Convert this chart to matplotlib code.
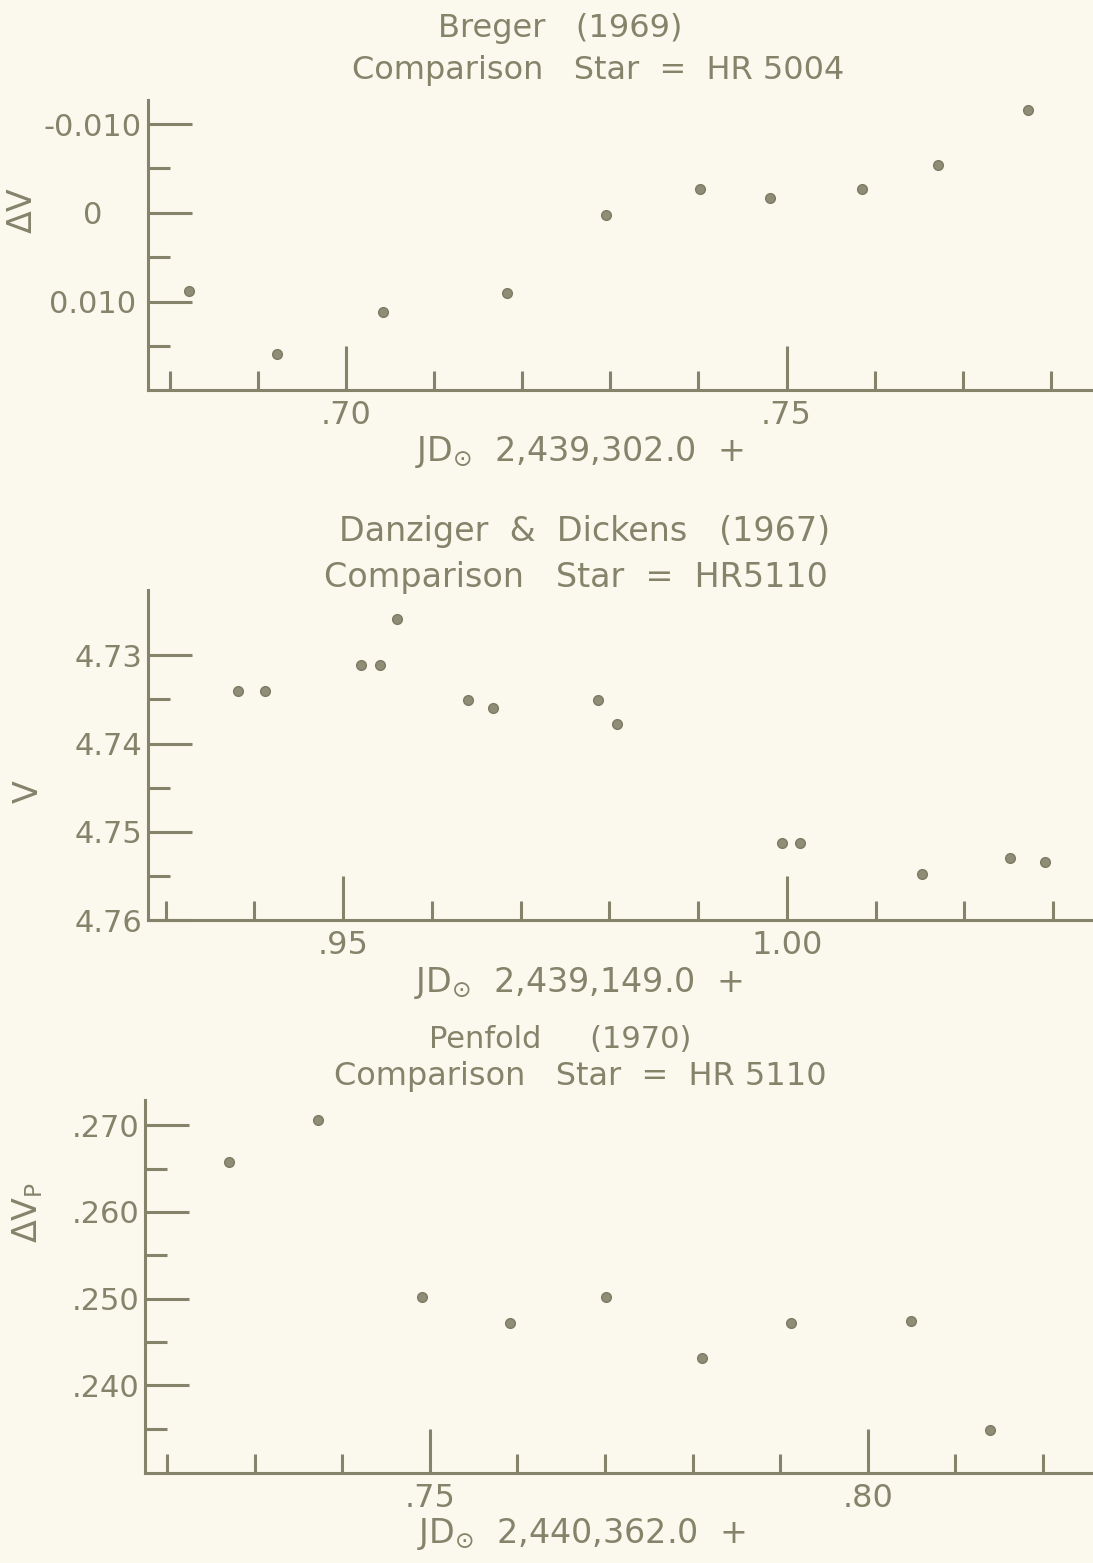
import numpy as np
import matplotlib
matplotlib.use("Agg")
import matplotlib.pyplot as plt
from matplotlib.ticker import FixedLocator

# Breger (1969), comparison HR 5004
breger_jd = [0.6822, 0.6922, 0.7042, 0.7183, 0.7295, 0.7402, 0.7481, 0.7586, 0.7672, 0.7774]
breger_dv = [0.0088, 0.0159, 0.0111, 0.0090, 0.0002, -0.0027, -0.0017, -0.0027, -0.0054, -0.0116]

# Danziger & Dickens (1967), comparison HR 5110
dd_jd = [0.9381, 0.9412, 0.9520, 0.9542, 0.9561, 0.9641, 0.9669, 0.9787, 0.9809,
         0.9994, 1.0015, 1.0152, 1.0251, 1.0291]
dd_v = [4.7340, 4.7340, 4.7311, 4.7311, 4.7259, 4.7351, 4.7360, 4.7351, 4.7378,
        4.7513, 4.7513, 4.7548, 4.7530, 4.7534]

# Penfold (1970), comparison HR 5110
pen_jd = [0.7271, 0.7372, 0.7491, 0.7592, 0.7701, 0.7811, 0.7912, 0.8049, 0.8139]
pen_dvp = [0.2657, 0.2706, 0.2502, 0.2472, 0.2502, 0.2431, 0.2472, 0.2474, 0.2349]

INK = "#85836a"
DOT = "#8f8d76"
BG = "#fbf9ee"

plt.rcParams["font.family"] = ["DejaVu Sans"]
plt.rcParams["mathtext.fontset"] = "dejavusans"

W, H = 1093, 1563
fig = plt.figure(figsize=(W / 100, H / 100), dpi=100)
fig.patch.set_facecolor(BG)


def px_axes(left, top, bottom, right=W):
    return fig.add_axes([left / W, 1 - bottom / H, (right - left) / W, (bottom - top) / H])


def style(ax, xmajor, xminor, xlabels, ymajor, yminor, ylabels, ypad=8):
    ax.set_facecolor("none")
    for s in ["top", "right"]:
        ax.spines[s].set_visible(False)
    for s in ["left", "bottom"]:
        ax.spines[s].set_color(INK)
        ax.spines[s].set_linewidth(2.2)
    ax.xaxis.set_major_locator(FixedLocator(xmajor))
    ax.xaxis.set_minor_locator(FixedLocator(xminor))
    ax.set_xticklabels(xlabels)
    ax.yaxis.set_major_locator(FixedLocator(ymajor))
    ax.yaxis.set_minor_locator(FixedLocator(yminor))
    ax.set_yticklabels(ylabels)
    ax.tick_params(which="major", direction="in", length=32, width=2.2, color=INK,
                   labelcolor=INK, labelsize=22)
    ax.tick_params(which="minor", direction="in", length=16, width=2.2, color=INK)
    ax.tick_params(axis="x", which="minor", length=14)
    ax.tick_params(axis="x", labelsize=23, pad=7)
    ax.tick_params(axis="y", pad=ypad)


# ---- panel 1 ----
ax1 = px_axes(148, 100, 390)
ax1.plot(breger_jd, breger_dv, "o", ms=7, color=DOT, mec="#7d7b64")
ax1.set_xlim(0.6775, 0.7848)
ax1.set_ylim(0.0199, -0.0127)
style(ax1, [0.70, 0.75], np.arange(0.68, 0.785, 0.01), [".70", ".75"],
      [-0.010, 0.0, 0.010], [-0.005, 0.005, 0.015], ["-0.010", "0", "0.010"], ypad=40)
plt.setp(ax1.get_yticklabels(), ha="center")
ax1.set_ylabel("ΔV", color=INK, fontsize=24)
ax1.yaxis.set_label_coords(-0.116, 0.62)
ax1.set_xlabel(r"JD$_{\odot}$  2,439,302.0  +", color=INK, fontsize=24)
ax1.xaxis.set_label_coords(0.456, -0.15)
fig.text(560 / W, 1 - 28 / H, "Breger   (1969)", ha="center", va="center", color=INK, fontsize=23)
fig.text(598 / W, 1 - 70 / H, "Comparison   Star  =  HR 5004", ha="center", va="center",
         color=INK, fontsize=23)

# ---- panel 2 ----
ax2 = px_axes(148, 590, 920)
ax2.plot(dd_jd, dd_v, "o", ms=7, color=DOT, mec="#7d7b64")
ax2.set_xlim(0.9280, 1.0345)
ax2.set_ylim(4.76, 4.7226)
style(ax2, [0.95, 1.00], np.arange(0.93, 1.035, 0.01), [".95", "1.00"],
      [4.73, 4.74, 4.75, 4.76], [4.735, 4.745, 4.755], ["4.73", "4.74", "4.75", "4.76"], ypad=4)
ax2.set_ylabel("V", color=INK, fontsize=24)
ax2.yaxis.set_label_coords(-0.109, 0.39)
ax2.set_xlabel(r"JD$_{\odot}$  2,439,149.0  +", color=INK, fontsize=24)
ax2.xaxis.set_label_coords(0.455, -0.135)
fig.text(585 / W, 1 - 532 / H, "Danziger  &  Dickens   (1967)", ha="center", va="center",
         color=INK, fontsize=24)
fig.text(576 / W, 1 - 577 / H, "Comparison   Star  =  HR5110", ha="center", va="center",
         color=INK, fontsize=24)

# ---- panel 3 ----
ax3 = px_axes(145, 1100, 1473)
ax3.plot(pen_jd, pen_dvp, "o", ms=7, color=DOT, mec="#7d7b64")
ax3.set_xlim(0.7175, 0.8257)
ax3.set_ylim(0.2299, 0.2729)
style(ax3, [0.75, 0.80], np.arange(0.72, 0.825, 0.01), [".75", ".80"],
      [0.240, 0.250, 0.260, 0.270], [0.235, 0.245, 0.255, 0.265], [".240", ".250", ".260", ".270"],
      ypad=4)
ax3.set_ylabel(r"ΔV$_{\rm P}$", color=INK, fontsize=24)
ax3.yaxis.set_label_coords(-0.105, 0.70)
ax3.set_xlabel(r"JD$_{\odot}$  2,440,362.0  +", color=INK, fontsize=24)
ax3.xaxis.set_label_coords(0.46, -0.115)
fig.text(560 / W, 1 - 1040 / H, "Penfold     (1970)", ha="center", va="center",
         color=INK, fontsize=22)
fig.text(580 / W, 1 - 1077 / H, "Comparison   Star  =  HR 5110", ha="center", va="center",
         color=INK, fontsize=23)

fig.savefig("out.png", dpi=100, facecolor=BG)
